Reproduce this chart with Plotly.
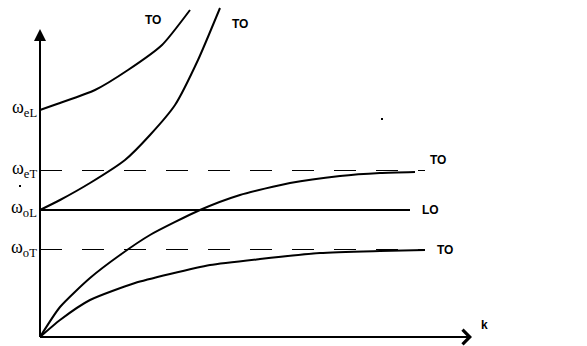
import plotly.graph_objects as go

# Data in chart units (k to the right of origin, omega above origin)
levels = {"eL": 227, "eT": 166, "oL": 127, "oT": 87}

k_top = [0, 20, 55, 88, 122, 150]
w_top = [227, 234, 247, 267, 292, 327]

k_up2 = [0, 20, 50, 85, 110, 135, 158, 180]
w_up2 = [127, 137, 154, 177, 202, 232, 277, 329]

k_mid = [0, 20, 50, 80, 110, 160, 200, 250, 300, 340, 375]
w_mid = [0, 30, 59, 82, 102, 127, 142, 154, 161, 164, 165]

k_low = [0, 20, 50, 95, 130, 170, 220, 280, 340, 385]
w_low = [0, 17, 37, 54, 63, 72, 78, 84, 86, 87]

fig = go.Figure()
line_style = dict(color="black", width=2)

for kx, wy in [(k_top, w_top), (k_up2, w_up2), (k_mid, w_mid), (k_low, w_low)]:
    fig.add_trace(go.Scatter(x=kx, y=wy, mode="lines", line=dict(color="black", width=2, shape="spline", smoothing=0.6), hoverinfo="skip"))

# horizontal level lines
fig.add_trace(go.Scatter(x=[0, 370], y=[levels["oL"]] * 2, mode="lines", line=line_style, hoverinfo="skip"))
for key in ["eT", "oT"]:
    fig.add_trace(go.Scatter(x=[0, 385], y=[levels[key] + 0.5] * 2, mode="lines",
                             line=dict(color="black", width=1, dash="22px,20px"), hoverinfo="skip"))

# axes
fig.add_trace(go.Scatter(x=[0, 0], y=[0, 300], mode="lines", line=line_style, hoverinfo="skip"))
fig.add_trace(go.Scatter(x=[0, 425], y=[0, 0], mode="lines", line=line_style, hoverinfo="skip"))
fig.add_annotation(x=0, y=308, ax=0, ay=280, xref="x", yref="y", axref="x", ayref="y",
                   showarrow=True, arrowhead=2, arrowsize=1.2, arrowwidth=2, arrowcolor="black", text="")
fig.add_annotation(x=432, y=0, ax=405, ay=0, xref="x", yref="y", axref="x", ayref="y",
                   showarrow=True, arrowhead=4, arrowsize=1.4, arrowwidth=2, arrowcolor="black", text="")

# labels
lab_font = dict(family="Liberation Sans, Arial", size=12, color="black")
for (tx, ty, t) in [(113, 317, "<b>TO</b>"), (200, 313, "<b>TO</b>"), (398, 177, "<b>TO</b>"),
                    (390, 127, "<b>LO</b>"), (405, 87, "<b>TO</b>"), (444, 12, "<b>k</b>")]:
    fig.add_annotation(x=tx, y=ty, text=t, showarrow=False, font=lab_font)

om_font = dict(family="Liberation Serif, Times New Roman", size=18, color="black")
for key, yy in levels.items():
    fig.add_annotation(x=-1, y=yy + 2, xanchor="right", text="ω<sub>%s</sub>" % key,
                       showarrow=False, font=om_font)

# stray dots
fig.add_trace(go.Scatter(x=[342, -20], y=[218, 151], mode="markers",
                         marker=dict(color="black", size=2, symbol="square"), hoverinfo="skip"))

fig.update_layout(
    width=587, height=346, margin=dict(l=0, r=0, t=0, b=0),
    plot_bgcolor="white", paper_bgcolor="white", showlegend=False,
    xaxis=dict(range=[-40, 547], visible=False, fixedrange=True),
    yaxis=dict(range=[-9, 337], visible=False, fixedrange=True),
)
fig.write_html("out.html")
